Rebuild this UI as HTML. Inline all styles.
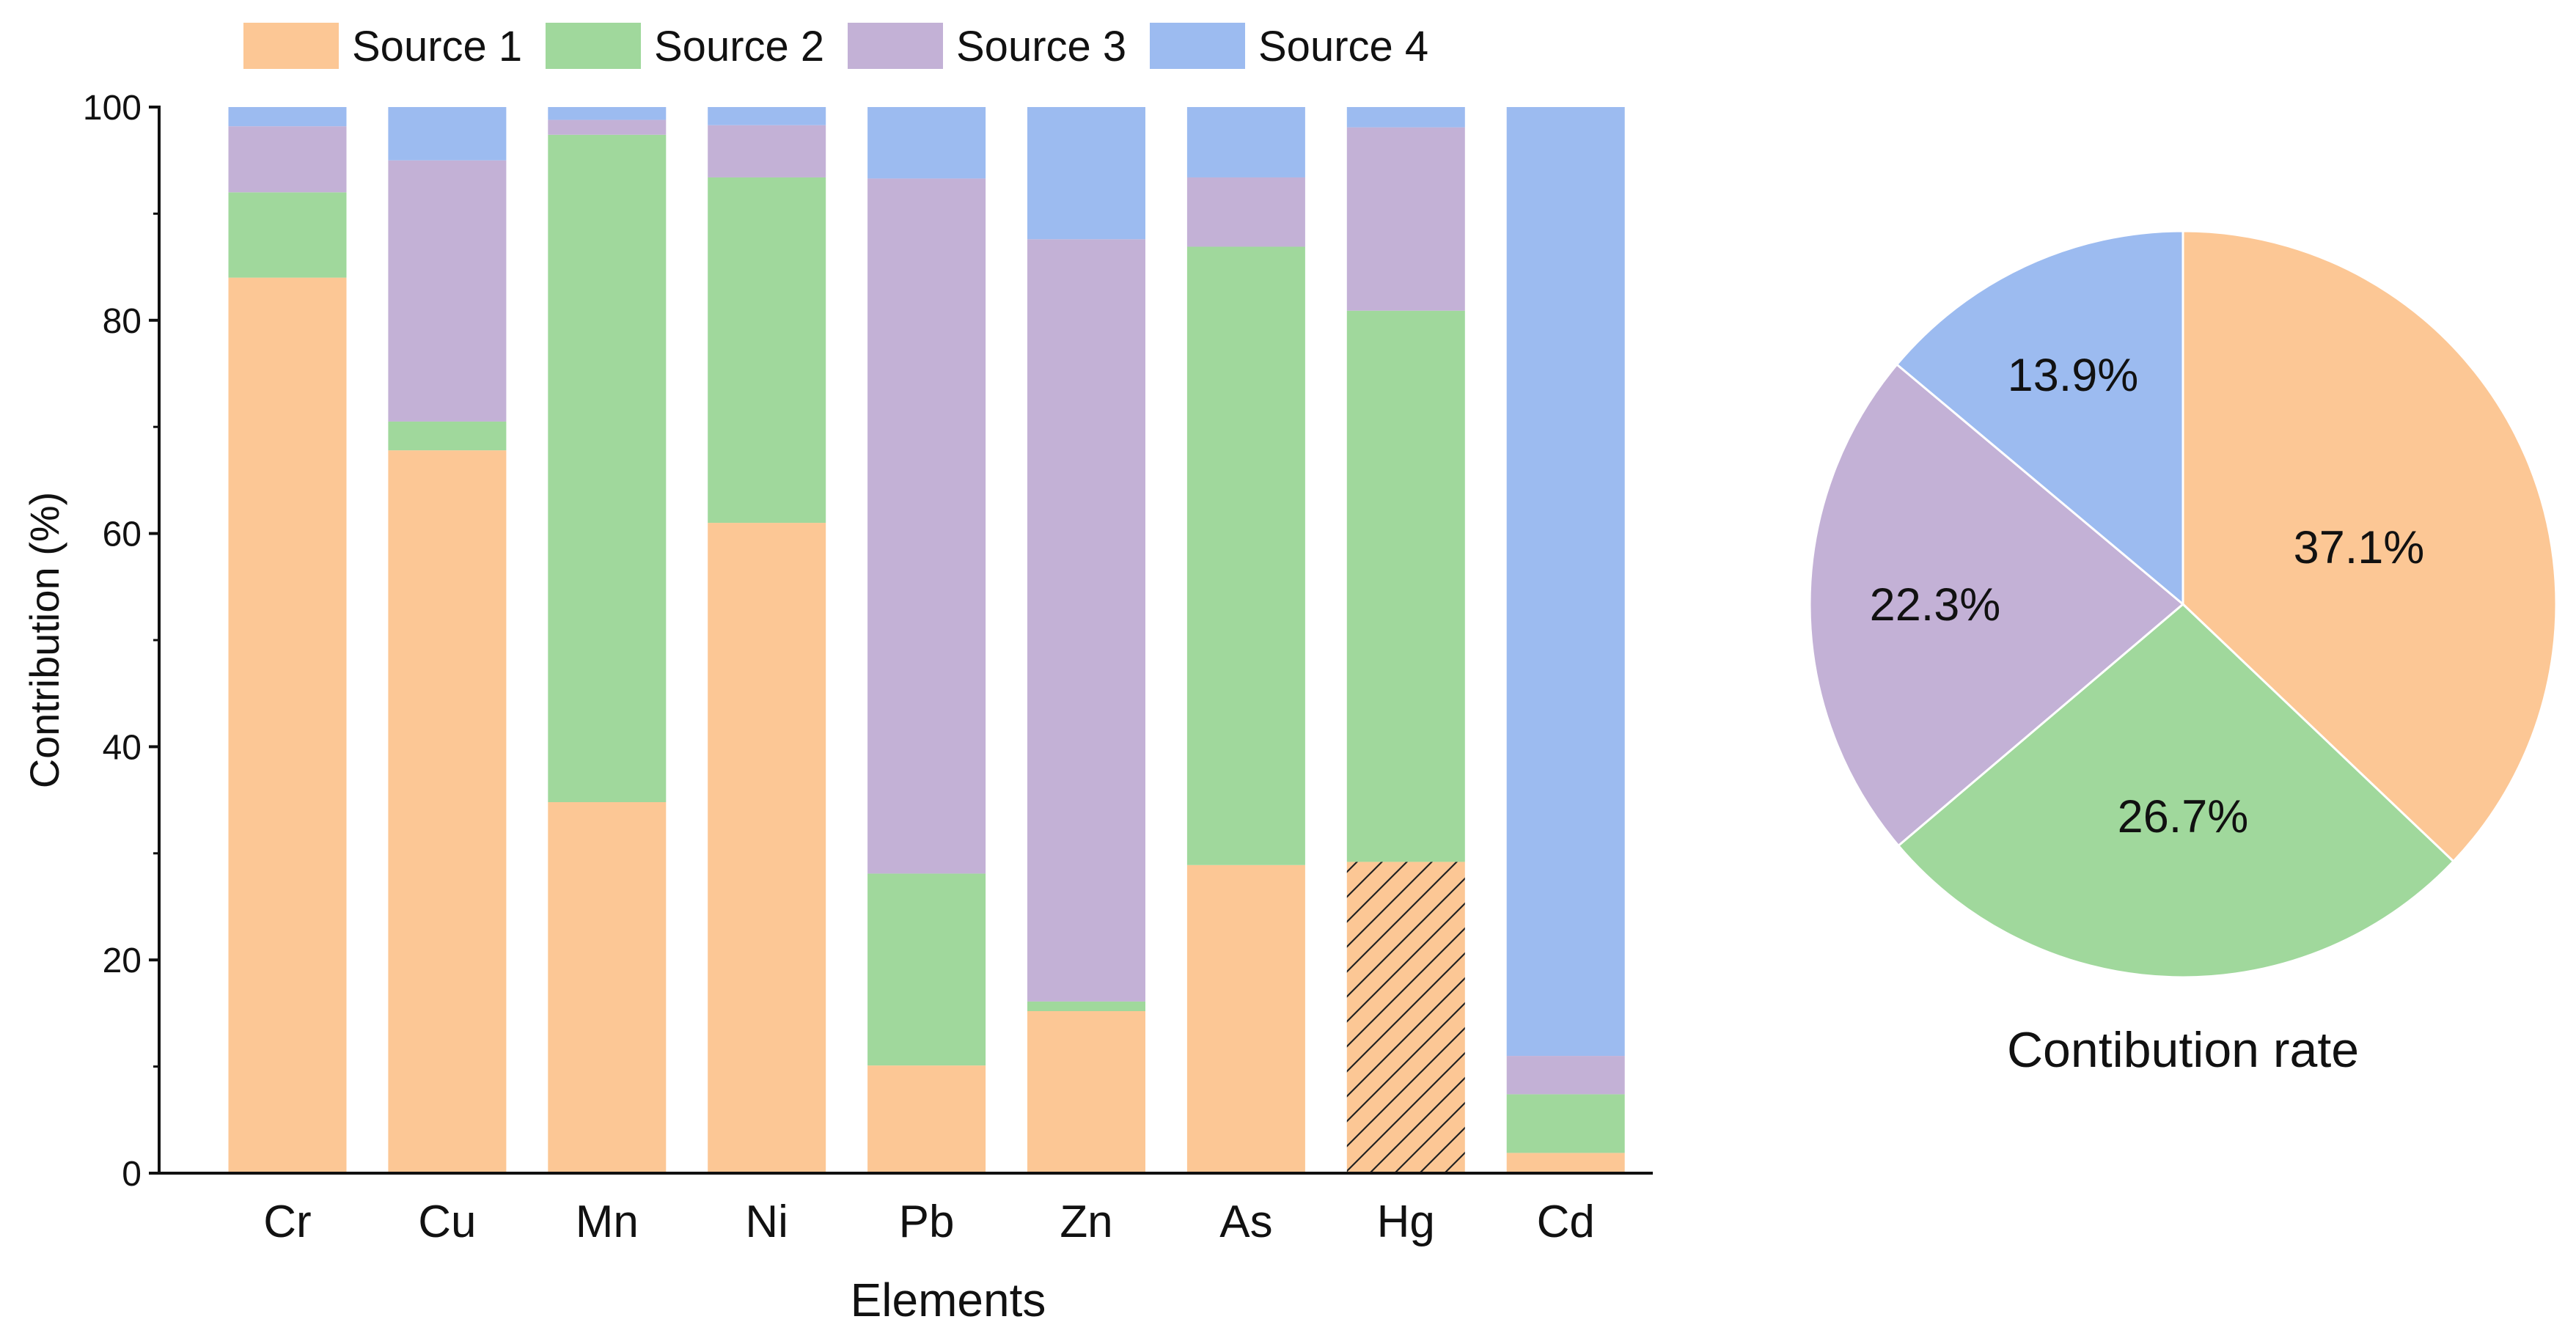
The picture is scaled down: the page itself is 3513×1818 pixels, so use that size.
<!DOCTYPE html>
<html><head><meta charset="utf-8"><style>
html,body{margin:0;padding:0;background:#fff;}
svg{display:block;font-family:"Liberation Sans",Arial,sans-serif;}
</style></head><body>
<svg id="chart" width="3513" height="1818" viewBox="0 0 3513 1818" xmlns="http://www.w3.org/2000/svg">
<defs>
<pattern id="hatch" patternUnits="userSpaceOnUse" width="34" height="34">
<rect width="34" height="34" fill="#FCC795"/>
<path d="M-8,42 L42,-8 M-8,8 L8,-8 M26,42 L42,26" stroke="#222" stroke-width="2.2"/>
</pattern>
</defs>
</svg>
<script>
const categories = ["Cr","Cu","Mn","Ni","Pb","Zn","As","Hg","Cd"];
const seriesNames = ["Source 1","Source 2","Source 3","Source 4"];
const source1 = [84.0,67.8,34.8,61.0,10.1,15.2,28.9,29.2,1.9];
const source2 = [8.0,2.7,62.6,32.4,18.0,0.9,58.0,51.7,5.5];
const source3 = [6.2,24.5,1.4,4.9,65.2,71.5,6.5,17.2,3.6];
const source4 = [1.8,5.0,1.2,1.7,6.7,12.4,6.6,1.9,89.0];
const yTicks = [0,20,40,60,80,100];
const yMinorTicks = [10,30,50,70,90];
const pieLabels = ["37.1%","26.7%","22.3%","13.9%"];
const pieValues = [37.1,26.7,22.3,13.9];

const colors = ["#FCC795","#A0D89C","#C3B1D6","#9CBBF0"];
const NS = "http://www.w3.org/2000/svg";
const svg = document.getElementById("chart");
function mk(tag, attrs, parent){const e=document.createElementNS(NS,tag);for(const k in attrs)e.setAttribute(k,attrs[k]);(parent||svg).appendChild(e);return e;}

const X0=217, X1=2254, Y0=1600, Y1=146;
const yScale = v => Y0 - (v/100)*(Y0-Y1);
const step = 217.9;
const xCenter = i => 392 + step*i;
const barW = 161;

const plot = mk("g",{});



const series=[source1,source2,source3,source4];
categories.forEach((c,i)=>{
  let base=0;
  series.forEach((s,si)=>{
    const y0=yScale(base), y1=yScale(base+s[i]);
    const fill = (c==="Hg" && si===0) ? "url(#hatch)" : colors[si];
    const r=mk("rect",{x:xCenter(i)-barW/2,y:y1,width:barW,height:y0-y1,fill:fill},plot);
    
    
    base+=s[i];
  });
  const t=mk("text",{x:xCenter(i),y:1687,"font-size":62,"text-anchor":"middle",fill:"#111"},plot);
  t.textContent=c;
  
  
});
const ya=mk("line",{x1:X0,y1:Y1-2,x2:X0,y2:Y0+2,stroke:"#111","stroke-width":4});


const xa=mk("line",{x1:X0-2,y1:Y0,x2:X1,y2:Y0,stroke:"#111","stroke-width":4});


yTicks.forEach(v=>{
  mk("line",{x1:X0-14,y1:yScale(v),x2:X0,y2:yScale(v),stroke:"#111","stroke-width":4});
  const t=mk("text",{x:X0-24,y:yScale(v)+17,"font-size":48,"text-anchor":"end",fill:"#111"});
  t.textContent=v;
  
  
});
yMinorTicks.forEach(v=>{mk("line",{x1:X0-8,y1:yScale(v),x2:X0,y2:yScale(v),stroke:"#111","stroke-width":3});});
const yt=mk("text",{x:0,y:0,"font-size":56,"text-anchor":"middle",fill:"#111",transform:"translate(80,873) rotate(-90)"});
yt.textContent="Contribution (%)";


const xt=mk("text",{x:1293,y:1795,"font-size":64,"text-anchor":"middle",fill:"#111"});
xt.textContent="Elements";



const legX=[332,744,1156,1568];
seriesNames.forEach((n,i)=>{
  const g=mk("g",{});
  
  
  mk("rect",{x:legX[i],y:31,width:130,height:63,fill:colors[i]},g);
  const t=mk("text",{x:legX[i]+148,y:83,"font-size":58,fill:"#111"},g);
  t.textContent=n;
});

const cx=2977, cy=824, R=509;
const labelPos=[[3217,768],[2977,1135],[2639,846],[2827,533]];
let ang=0;
const total=pieValues.reduce((a,b)=>a+b,0);
pieValues.forEach((v,i)=>{
  const a0=ang, a1=ang+v/total*2*Math.PI; ang=a1;
  const p=(a)=>[cx+R*Math.sin(a), cy-R*Math.cos(a)];
  const [sx,sy]=p(a0),[ex,ey]=p(a1);
  const large=(a1-a0)>Math.PI?1:0;
  const s=mk("path",{d:`M${cx},${cy} L${sx},${sy} A${R},${R} 0 ${large} 1 ${ex},${ey} Z`,fill:colors[i],stroke:"#fff","stroke-width":3});
  
  
  const t=mk("text",{x:labelPos[i][0],y:labelPos[i][1],"font-size":63,"text-anchor":"middle",fill:"#111"});
  t.textContent=pieLabels[i];
  
  
});
const pt=mk("text",{x:cx,y:1455,"font-size":68,"text-anchor":"middle",fill:"#111"});
pt.textContent="Contibution rate";


</script>
</body></html>
